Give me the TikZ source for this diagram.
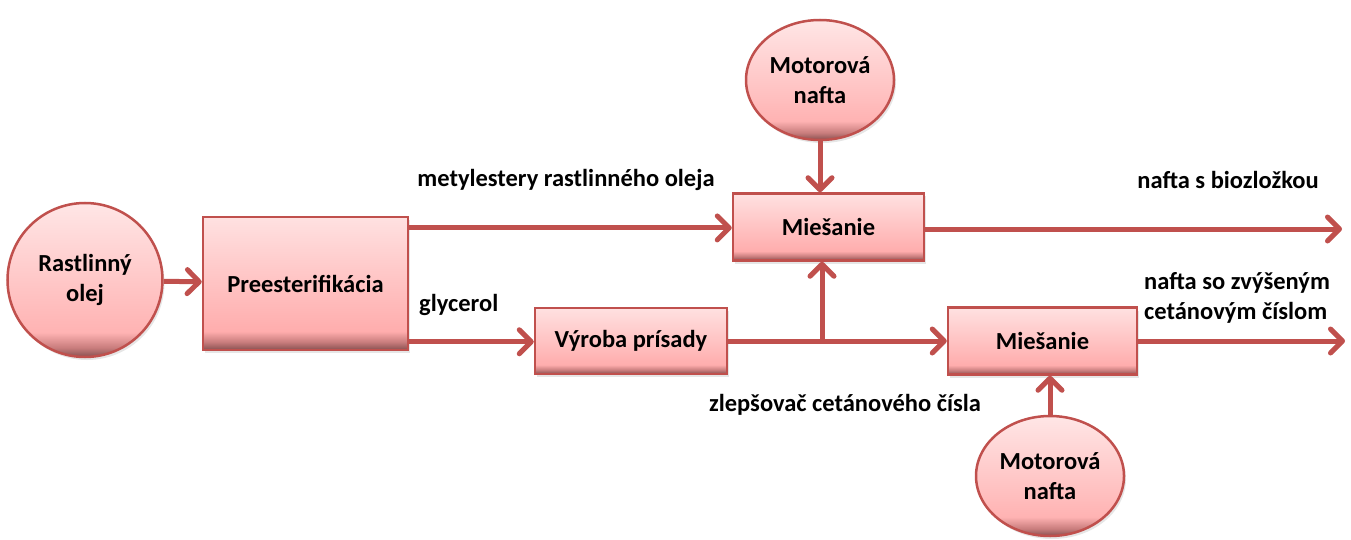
\documentclass[tikz,border=0pt]{standalone}
\usepackage{fontspec}
\setmainfont{Carlito}
\usetikzlibrary{arrows.meta,shapes.geometric,shadows,calc}
\definecolor{redline}{HTML}{C0504D}
\definecolor{bdark}{HTML}{875050}
\definecolor{bmid}{HTML}{C87C7C}
\definecolor{bpink}{HTML}{FFADAD}
\definecolor{btop}{HTML}{FFE1E1}
\definecolor{cpink}{HTML}{FFB3B3}
\definecolor{ctop}{HTML}{FFE6E6}
\pgfdeclareverticalshading{boxshade}{100bp}{color(0bp)=(bdark); color(25bp)=(bdark); color(28bp)=(bmid); color(32bp)=(bpink); color(75bp)=(btop); color(100bp)=(btop)}
\pgfdeclareverticalshading{circshade}{100bp}{color(0bp)=(bdark); color(25bp)=(bdark); color(28bp)=(bmid); color(33bp)=(cpink); color(75bp)=(ctop); color(100bp)=(ctop)}
\tikzset{
  txt/.style={font=\bfseries\fontsize{24.5}{30}\selectfont, text=black, align=center, inner sep=0pt},
  procbox/.style={txt, rectangle, draw=redline, line width=2.5pt, shading=boxshade,
    drop shadow={shadow xshift=2pt, shadow yshift=-3pt, opacity=0.2}},
  source/.style={txt, ellipse, draw=redline, line width=2.5pt, shading=circshade,
    drop shadow={shadow xshift=2pt, shadow yshift=-3pt, opacity=0.2}},
  arr/.style={draw=redline, line width=5pt, -{Straight Barb[length=12pt,width=24pt,round]}},
  plain/.style={draw=redline, line width=5pt},
}
\begin{document}
\begin{tikzpicture}[x=1pt,y=-1pt]
\useasboundingbox (0,0) rectangle (1351,540);
% sources
\node[source, minimum width=155pt, minimum height=154pt] (oil) at (85,280) {Rastlinný\\olej};
\node[source, minimum width=148pt, minimum height=120pt] (mtop) at (820,80) {Motorová\\nafta};
\node[source, minimum width=148pt, minimum height=120pt] (mbot) at (1050,476) {Motorová\\nafta};
% process boxes
\node[procbox, minimum width=205pt, minimum height=133pt] (pre) at (305.5,283.5) {Preesterifikácia};
\node[procbox, minimum width=191pt, minimum height=67pt] (mix1) at (828.5,227) {Miešanie};
\node[procbox, minimum width=192pt, minimum height=66pt] (vyr) at (631,341) {Výroba prísady};
\node[procbox, minimum width=189pt, minimum height=67pt] (mix2) at (1042.5,341) {Miešanie};
% labels
\node[txt] (l1) at (566,180) {metylestery rastlinného oleja};
\node[txt, anchor=west] (l2) at (419,305) {glycerol};
\node[txt] (l3) at (1228,180) {nafta s biozložkou};
\node[txt, anchor=west, align=left] (l4) at (1144,298) {nafta so zvýšeným\\cetánovým číslom};
\node[txt] (l5) at (845,405) {zlepšovač cetánového čísla};
% helper coordinates
\coordinate (p1) at ($(pre.north east)!0.09!(pre.south east)$);
\coordinate (p2) at ($(pre.north east)!0.93!(pre.south east)$);
\coordinate (j) at (822,341);
\coordinate (o1) at (1342,229);
\coordinate (o2) at (1345,341);
% connectors
\draw[arr] (oil) -- (pre);
\draw[arr] (p1) -- (mix1.west |- p1);
\draw[arr] (p2) -- (vyr.west |- p2);
\draw[arr] (mtop) -- (mtop |- mix1.north);
\draw[plain] (vyr.east) -- (j);
\draw[arr] (j) -- (mix2.west);
\draw[arr] (j) -- (j |- mix1.south);
\draw[arr] (mix1.east |- o1) -- (o1);
\draw[arr] (mix2.east) -- (o2);
\draw[arr] (mbot) -- (mbot |- mix2.south);
\end{tikzpicture}
\end{document}
